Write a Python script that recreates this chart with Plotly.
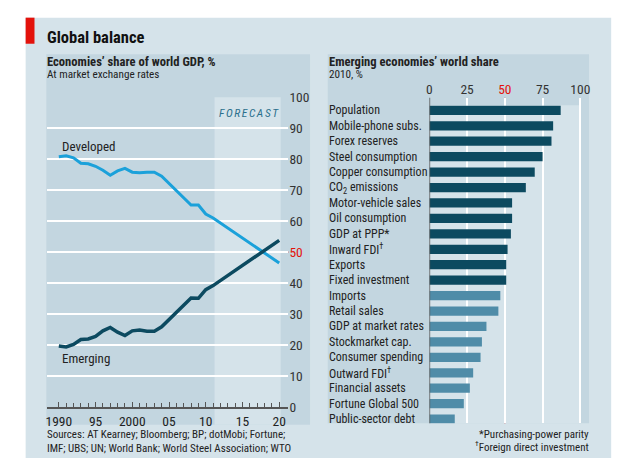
import plotly.graph_objects as go

W, H = 629, 467
FONT = "Roboto, sans-serif"

# ---------------- data ----------------
years = [1990, 1991, 1992, 1993, 1994, 1995, 1996, 1997, 1998, 1999, 2000,
         2001, 2002, 2003, 2004, 2005, 2006, 2007, 2008, 2009, 2010, 2011, 2020]
developed = [80.8, 81.1, 80.4, 78.7, 78.5, 77.7, 76.4, 74.8, 76.2, 77.0, 75.8,
             75.6, 75.8, 75.8, 74.5, 72.2, 69.9, 67.5, 65.2, 65.2, 62.3, 61.0, 46.5]
emerging = [19.7, 19.4, 20.2, 21.8, 22.0, 22.8, 24.6, 25.7, 24.2, 23.1, 24.6,
            24.9, 24.5, 24.5, 25.9, 28.2, 30.5, 32.9, 35.2, 35.1, 37.9, 39.2, 53.8]
forecast_start = 2011.2

x_tickvals = [1990, 1995, 2000, 2005, 2010, 2015, 2020]
x_ticktext = ["1990", "95", "2000", "05", "10", "15", "20"]
y_tickvals = [0, 10, 20, 30, 40, 50, 60, 70, 80, 90, 100]

categories = ["Population", "Mobile-phone subs.", "Forex reserves", "Steel consumption",
              "Copper consumption", "CO<sub>2</sub> emissions", "Motor-vehicle sales",
              "Oil consumption", "GDP at PPP*", "Inward FDI<sup>†</sup>", "Exports",
              "Fixed investment", "Imports", "Retail sales", "GDP at market rates",
              "Stockmarket cap.", "Consumer spending", "Outward FDI<sup>†</sup>",
              "Financial assets", "Fortune Global 500", "Public-sector debt"]
shares = [87.0, 82.0, 80.9, 75.0, 69.8, 63.9, 54.8, 54.8, 54.0, 51.8, 50.9,
          50.9, 47.0, 45.7, 37.8, 34.8, 33.9, 29.0, 26.8, 22.8, 16.8]
bar_tickvals = [0, 25, 50, 75, 100]

# ---------------- style ----------------
LIGHT = "#d5e3ea"
DARK = "#c3d6e0"
RED = "#e3120b"
REDLINE = "#e0464a"
C_DEV = "#1ba1da"
C_EMG = "#0c4a60"
C_BAR_LIGHT = "#4f8ca8"
TXT = "#222222"


def fx(px):
    return px / W


def fy(py):
    return 1 - py / H


def cond(text, extra=""):
    return f"<span style='font-stretch:condensed;{extra}'>{text}</span>"


def tick_label(v, ref):
    return cond(v, f"color:{RED}") if v == ref else cond(v)


bar_colors = [C_EMG if v > 50 else C_BAR_LIGHT for v in shares]

fig = go.Figure()
fig.add_trace(go.Scatter(x=years, y=developed, mode="lines", xaxis="x", yaxis="y",
                         line=dict(color=C_DEV, width=3), hoverinfo="skip"))
fig.add_trace(go.Scatter(x=years, y=emerging, mode="lines", xaxis="x", yaxis="y",
                         line=dict(color=C_EMG, width=3.5), hoverinfo="skip"))
fig.add_trace(go.Bar(x=shares, y=categories, orientation="h", xaxis="x2", yaxis="y2",
                     width=0.6, marker=dict(color=bar_colors, line=dict(width=0)),
                     hoverinfo="skip"))

shapes = [
    dict(type="rect", xref="paper", yref="paper", x0=fx(23), x1=fx(618), y0=fy(466), y1=fy(10),
         fillcolor=LIGHT, line=dict(width=0), layer="below"),
    dict(type="rect", xref="paper", yref="paper", x0=fx(23), x1=fx(32), y0=fy(37), y1=fy(10),
         fillcolor=RED, line=dict(width=0), layer="below"),
    dict(type="rect", xref="paper", yref="paper", x0=fx(44), x1=fx(312), y0=fy(431.5), y1=fy(48),
         fillcolor=DARK, line=dict(width=0), layer="below"),
    dict(type="rect", xref="x", yref="paper", x0=forecast_start, x1=2020.2, y0=fy(431.5), y1=fy(92.3),
         fillcolor=LIGHT, line=dict(width=0), layer="below"),
    dict(type="rect", xref="paper", yref="paper", x0=fx(330), x1=fx(595.5), y0=fy(430), y1=fy(48),
         fillcolor=DARK, line=dict(width=0), layer="below"),
    dict(type="rect", xref="x2", yref="paper", x0=0, x1=100, y0=fy(430), y1=fy(100.7),
         fillcolor=LIGHT, line=dict(width=0), layer="below"),
    dict(type="line", xref="paper", yref="y", x0=fx(45), x1=fx(290), y0=50, y1=50,
         line=dict(color=REDLINE, width=1.2), layer="between"),
    dict(type="line", xref="x2", yref="paper", x0=50, x1=50, y0=fy(430), y1=fy(93),
         line=dict(color=REDLINE, width=1.2), layer="between"),
    dict(type="line", xref="x2", yref="paper", x0=0, x1=0, y0=fy(430), y1=fy(93),
         line=dict(color="#555555", width=1.5), layer="above"),
]

annotations = []


def txt(text, x, y, size, xanchor="left", bold=False, color=TXT, xref="paper", yref="paper",
        extra="", xshift=0):
    if bold:
        text = f"<b>{text}</b>"
    annotations.append(dict(text=cond(text, extra), x=x, y=y, xref=xref, yref=yref,
                            xanchor=xanchor, yanchor="middle", showarrow=False, xshift=xshift,
                            font=dict(size=size, color=color, family=FONT)))


txt("Global balance", fx(43), fy(31), 16.5, bold=True, color="#111111")
txt("Economies’ share of world GDP, %", fx(43), fy(55), 12.6, bold=True)
txt("At market exchange rates", fx(43), fy(69), 11.2)
txt("Emerging economies’ world share", fx(329), fy(55), 12.6, bold=True)
txt("2010, %", fx(329), fy(69), 11.2)
txt("Developed", years[0], 84.2, 13, xref="x", yref="y", xshift=1)
txt("Emerging", years[0], 15.7, 13, xref="x", yref="y", xshift=1)
txt("<i>FORECAST</i>", 2020, 94.8, 11.5, xanchor="right", color="#2b6f8c", xref="x", yref="y",
    extra="letter-spacing:1.6px", xshift=3)
txt("Sources: AT Kearney; Bloomberg; BP; dotMobi; Fortune;", fx(43), fy(441.7), 11)
txt("IMF; UBS; UN; World Bank; World Steel Association; WTO", fx(43), fy(455.7), 11)
txt("*Purchasing-power parity", fx(597), fy(441.7), 11, xanchor="right")
txt("<sup>†</sup>Foreign direct investment", fx(597), fy(454.5), 11, xanchor="right")
for c in categories:
    txt(c, fx(329), c, 12, xref="paper", yref="y2")

fig.update_layout(
    width=W, height=H, margin=dict(l=0, r=0, t=0, b=0),
    paper_bgcolor="white", plot_bgcolor="rgba(0,0,0,0)", showlegend=False,
    font=dict(family=FONT, size=12, color=TXT),
    shapes=shapes, annotations=annotations,
    xaxis=dict(domain=[fx(45), fx(290)], range=[1988.43, 2021.25], anchor="y",
               tickvals=x_tickvals, ticktext=[cond(t) for t in x_ticktext], ticks="inside", ticklen=5,
               tickcolor="#555555", tickwidth=1, showline=True, linecolor="#555555", linewidth=1.5,
               showgrid=False, zeroline=False, tickfont=dict(size=13.5, color=TXT),
               ticklabelstandoff=1,
               minor=dict(tickvals=list(range(1990, 2021)), ticks="inside", ticklen=4,
                          tickcolor="#555555", showgrid=False)),
    yaxis=dict(domain=[fy(413.3), fy(92.3)], range=[0, 100], side="right", anchor="x",
               tickvals=y_tickvals, ticktext=[tick_label(v, 50) for v in y_tickvals],
               showgrid=True, gridcolor="white", gridwidth=2, zeroline=False, ticks="",
               tickfont=dict(size=13.5, color="#333333")),
    xaxis2=dict(domain=[fx(433.3), fx(590)], range=[0, 102.2], side="top", anchor="y2",
                tickvals=bar_tickvals, ticktext=[tick_label(v, 50) for v in bar_tickvals],
                showgrid=True, gridcolor="white", gridwidth=1.5, zeroline=False, ticks="",
                tickfont=dict(size=13.5, color="#333333")),
    yaxis2=dict(domain=[fy(430), fy(93)], range=[20.27, -0.813], anchor="x2", type="category",
                showticklabels=False, showgrid=False, zeroline=False, ticks=""),
)

fig.write_html("out.html")
